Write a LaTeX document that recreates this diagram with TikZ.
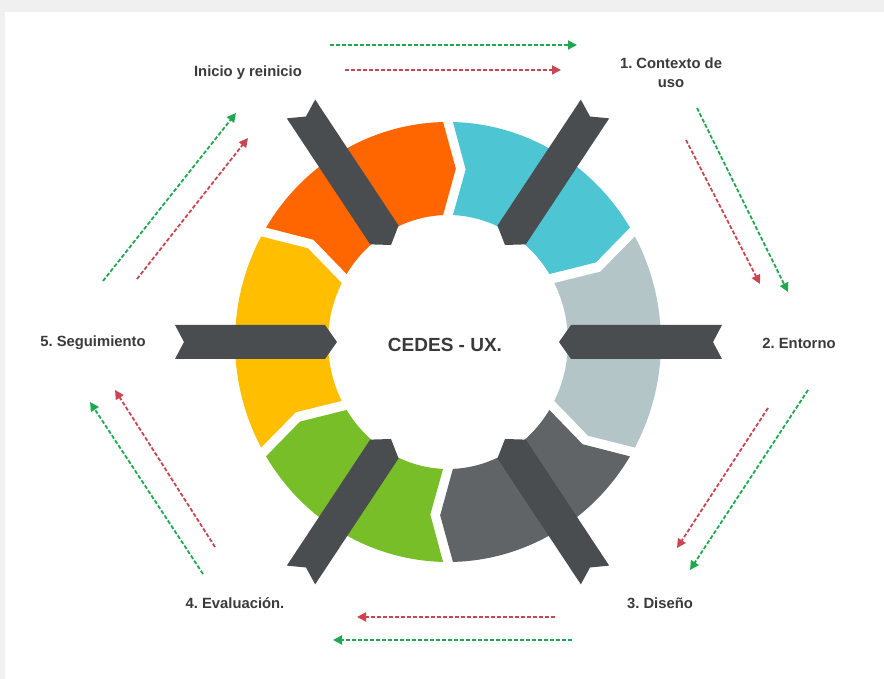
\documentclass[tikz,border=0pt]{standalone}
\usepackage{fontspec}
\setmainfont{Liberation Sans}
\usetikzlibrary{calc,arrows.meta}
\frenchspacing
\definecolor{orangeS}{RGB}{255,102,0}
\definecolor{cyanS}{RGB}{78,197,210}
\definecolor{lgrayS}{RGB}{180,197,199}
\definecolor{dgrayS}{RGB}{96,100,103}
\definecolor{greenS}{RGB}{120,190,40}
\definecolor{yellowS}{RGB}{255,190,0}
\definecolor{barS}{RGB}{74,77,80}
\definecolor{labelS}{RGB}{58,58,58}
\definecolor{flowG}{RGB}{30,168,80}
\definecolor{flowR}{RGB}{200,70,82}
\definecolor{frameS}{RGB}{240,240,240}
\newcommand\ringseg[2]{%
  \pgfmathsetmacro\aA{#2-1.33}%
  \pgfmathsetmacro\aB{#2-60+1.33}%
  \pgfmathsetmacro\aC{#2-60+1.7-4.4}%
  \pgfmathsetmacro\aD{#2-60+2.35}%
  \pgfmathsetmacro\aE{#2-2.35}%
  \pgfmathsetmacro\aF{#2-1.7-4.4}%
  \fill[#1] (\aA:213 and 220) arc[start angle=\aA, end angle=\aB, x radius=213, y radius=220]
     -- (\aC:166.5 and 173.5) -- (\aD:120 and 127)
     arc[start angle=\aD, end angle=\aE, x radius=120, y radius=127]
     -- (\aF:166.5 and 173.5) -- cycle;
}
\newcommand\spoke[3]{%
  \coordinate (#1t) at #2;
  \coordinate (#1m) at #3;
  \coordinate (#1s) at ($(#1t)!12pt!(#1m)$);
  \fill[barS] ($(#1m)!17pt!90:(#1t)$) -- ($(#1s)!17pt!-90:(#1m)$) -- (#1t)
     -- ($(#1s)!17pt!90:(#1m)$) -- ($(#1m)!17pt!-90:(#1t)$) -- ($(#1m)!9pt!(#1t)$) -- cycle;
}
\begin{document}
\begin{tikzpicture}[x=1pt,y=1pt,
  lbl/.style={font=\fontsize{14.8}{19}\selectfont\bfseries, text=labelS, inner sep=0pt, align=center},
  flowg/.style={draw=flowG, line width=1.8pt, dash pattern=on 4pt off 2pt, -{Triangle[length=9pt,width=9pt]}},
  flowr/.style={draw=flowR, line width=1.8pt, dash pattern=on 4pt off 2pt, -{Triangle[length=9pt,width=9pt]}}]
\useasboundingbox (0,0) rectangle (884,679);
\fill[frameS] (0,0) rectangle (884,679);
\fill[white] (5,0) rectangle (884,667);

% ring
\begin{scope}[shift={(448,337)}]
  \ringseg{orangeS}{150}
  \ringseg{cyanS}{90}
  \ringseg{lgrayS}{30}
  \ringseg{dgrayS}{-30}
  \ringseg{greenS}{-90}
  \ringseg{yellowS}{-150}
\end{scope}

% spokes
\spoke{ul}{(391,434)}{(301,570)}
\spoke{ur}{(505,434)}{(595,570)}
\spoke{rr}{(559,337)}{(722,337)}
\spoke{lr}{(505,240)}{(595,104)}
\spoke{ll}{(391,240)}{(301,104)}
\spoke{lf}{(337,337)}{(175,337)}

% labels
\node[lbl, font=\fontsize{19}{22}\selectfont\bfseries] (core) at (445,334) {CEDES - UX.};
\node[lbl] (inicio) at (248,606) {Inicio y reinicio};
\node[lbl] (ctx) at (671,606.5) {1. Contexto de\\uso};
\node[lbl] (ent) at (799,336) {2. Entorno};
\node[lbl] (dis) at (660,76) {3. Diseño};
\node[lbl] (eva) at (235,76) {4. Evaluación.};
\node[lbl] (seg) at (93,336) {5. Seguimiento};

% flow arrows
\coordinate (tg1) at (330,634); \coordinate (tg2) at (577,634);
\coordinate (tr1) at (345,609); \coordinate (tr2) at (561,609);
\coordinate (urg1) at (697,571); \coordinate (urg2) at (788,387);
\coordinate (urr1) at (686,539); \coordinate (urr2) at (760,395);
\coordinate (lrr1) at (768,271); \coordinate (lrr2) at (677,131);
\coordinate (lrg1) at (808,289); \coordinate (lrg2) at (690,109);
\coordinate (br1) at (555,62); \coordinate (br2) at (357,62);
\coordinate (bg1) at (572,39); \coordinate (bg2) at (333,39);
\coordinate (llr1) at (215,132); \coordinate (llr2) at (115,289);
\coordinate (llg1) at (203,105); \coordinate (llg2) at (90,277);
\coordinate (ulg1) at (103,398); \coordinate (ulg2) at (236,566);
\coordinate (ulr1) at (137,400); \coordinate (ulr2) at (248,541);

\draw[flowg] (tg1) -- (tg2);
\draw[flowr] (tr1) -- (tr2);
\draw[flowg] (urg1) -- (urg2);
\draw[flowr] (urr1) -- (urr2);
\draw[flowr] (lrr1) -- (lrr2);
\draw[flowg] (lrg1) -- (lrg2);
\draw[flowr] (br1) -- (br2);
\draw[flowg] (bg1) -- (bg2);
\draw[flowr] (llr1) -- (llr2);
\draw[flowg] (llg1) -- (llg2);
\draw[flowg] (ulg1) -- (ulg2);
\draw[flowr] (ulr1) -- (ulr2);
\end{tikzpicture}
\end{document}
